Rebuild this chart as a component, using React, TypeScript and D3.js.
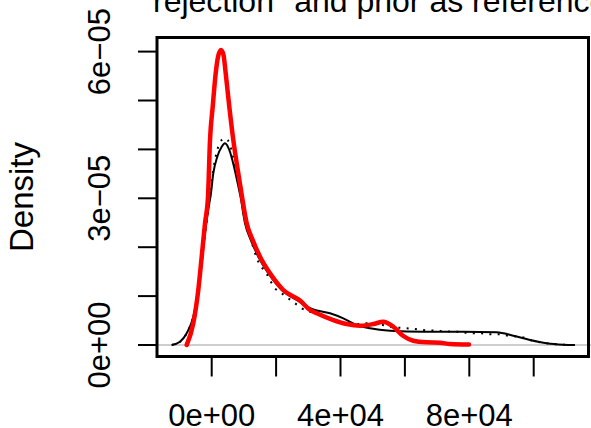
import React from "react";
import * as d3 from "d3";

const titleText = 'rejection" and prior as reference';
const yLabel = "Density";

const xTicks = [0, 20000, 40000, 60000, 80000, 100000];
const xTickLabels = [
  { v: 0, t: "0e+00" },
  { v: 40000, t: "4e+04" },
  { v: 80000, t: "8e+04" },
];
const yTicks = [0, 1e-5, 2e-5, 3e-5, 4e-5, 5e-5, 6e-5];
const yTickLabels = [
  { v: 0, t: "0e+00" },
  { v: 3e-5, t: "3e\u221205" },
  { v: 6e-5, t: "6e\u221205" },
];

// red (thick) density
const redX = [-7764, -5714, -4162, -3106, -2081, -1149, -528, 311, 1242, 1957, 2888, 3665, 4348, 5466, 6708, 8261, 9410, 10870, 12733, 15000, 18106, 22236, 27423, 30528, 32609, 37764, 41926, 46056, 50187, 53293, 56398, 59504, 62609, 66770, 70900, 74006, 79906];
const redY = [0, 0.444e-5, 1.125e-5, 1.806e-5, 2.489e-5, 3.033e-5, 4.192e-5, 4.873e-5, 5.556e-5, 5.89e-5, 6.033e-5, 5.93e-5, 5.556e-5, 4.873e-5, 4.192e-5, 3.511e-5, 3.033e-5, 2.489e-5, 2.147e-5, 1.806e-5, 1.466e-5, 1.125e-5, 0.91e-5, 0.716e-5, 0.648e-5, 0.511e-5, 0.429e-5, 0.395e-5, 0.429e-5, 0.476e-5, 0.374e-5, 0.184e-5, 0.088e-5, 0.055e-5, 0.047e-5, 0.02e-5, 0.01e-5];

// black solid density
const blackX = [-12422, -9845, -7764, -5714, -4162, -3106, -2081, -745, -373, 497, 1739, 3106, 4130, 5466, 6925, 8075, 8944, 10342, 12112, 14472, 17578, 21739, 26398, 30528, 36739, 40870, 45031, 49162, 55373, 65715, 78137, 88510, 93665, 98852, 104038, 109194, 112828];
const blackY = [0, 0.067e-5, 0.239e-5, 0.579e-5, 1.125e-5, 1.671e-5, 2.284e-5, 2.898e-5, 3.033e-5, 3.511e-5, 3.851e-5, 4.055e-5, 4.125e-5, 3.988e-5, 3.646e-5, 3.307e-5, 3.033e-5, 2.489e-5, 2.147e-5, 1.806e-5, 1.466e-5, 1.125e-5, 0.92e-5, 0.751e-5, 0.648e-5, 0.546e-5, 0.409e-5, 0.342e-5, 0.292e-5, 0.272e-5, 0.272e-5, 0.26e-5, 0.19e-5, 0.102e-5, 0.035e-5, 0.006e-5, 0];

// black dotted density
const dotX = [-12422, -9845, -7764, -5714, -4162, -3106, -2081, -745, -373, 497, 1739, 3106, 4130, 4969, 5994, 7236, 8168, 9100, 10497, 12205, 13975, 17081, 19659, 21739, 23789, 25870, 27950, 30528, 33106, 35186, 37764, 40062, 42733, 45528, 48137, 50714, 53106, 55373, 57950, 60559, 63137, 65715, 68323, 70900, 73478, 76087, 78665, 81242, 83851, 86429, 89006, 92640, 96274, 98852, 104038, 109194, 112828];
const dotY = [0, 0.067e-5, 0.239e-5, 0.579e-5, 1.125e-5, 1.671e-5, 2.284e-5, 2.898e-5, 3.1e-5, 3.579e-5, 3.988e-5, 4.192e-5, 4.223e-5, 4.192e-5, 4.022e-5, 3.681e-5, 3.374e-5, 3.033e-5, 2.489e-5, 2.147e-5, 1.779e-5, 1.452e-5, 1.159e-5, 1.057e-5, 0.955e-5, 0.853e-5, 0.751e-5, 0.681e-5, 0.628e-5, 0.566e-5, 0.497e-5, 0.456e-5, 0.444e-5, 0.429e-5, 0.444e-5, 0.429e-5, 0.409e-5, 0.374e-5, 0.354e-5, 0.342e-5, 0.327e-5, 0.307e-5, 0.297e-5, 0.286e-5, 0.276e-5, 0.272e-5, 0.252e-5, 0.239e-5, 0.239e-5, 0.219e-5, 0.219e-5, 0.184e-5, 0.164e-5, 0.102e-5, 0.035e-5, 0.006e-5, 0];

const W = 591;
const H = 428;
const box = { x0: 157, x1: 588.5, y0: 37.5, y1: 356.5 };
const font = "'Liberation Sans', Arial, Helvetica, sans-serif";

export default function App() {
  const x = d3.scaleLinear().domain([0, 100000]).range([211.7, 533.7]);
  const y = d3.scaleLinear().domain([0, 6e-5]).range([345, 51.6]);

  const mk = (xs: number[], ys: number[]) =>
    d3
      .line<number>()
      .x((_, i) => x(xs[i]))
      .y((_, i) => y(ys[i]))
      .curve(d3.curveMonotoneX)(xs) || "";

  return (
    <svg
      width={W}
      height={H}
      style={{ position: "absolute", left: 0, top: 0, background: "#fff" }}
      fontFamily={font}
    >
      <rect x={0} y={0} width={W} height={H} fill="#fff" />
      <text x={153} y={12} fontSize={32} fill="#000">
        {titleText}
      </text>
      <defs>
        <clipPath id="plotclip">
          <rect x={box.x0} y={box.y0} width={W - box.x0} height={box.y1 - box.y0} />
        </clipPath>
      </defs>
      <g clipPath="url(#plotclip)">
        <line x1={box.x0} x2={W} y1={y(0)} y2={y(0)} stroke="#bebebe" strokeWidth={1.5} />
        <path d={mk(dotX, dotY)} fill="none" stroke="#000" strokeWidth={2} strokeDasharray="2 6.3" />
        <path d={mk(blackX, blackY)} fill="none" stroke="#000" strokeWidth={2} />
        <path d={mk(redX, redY)} fill="none" stroke="#ff0000" strokeWidth={4.5} strokeLinejoin="round" strokeLinecap="round" />
      </g>
      <rect
        x={box.x0}
        y={box.y0}
        width={box.x1 - box.x0}
        height={box.y1 - box.y0}
        fill="none"
        stroke="#000"
        strokeWidth={3}
      />
      {xTicks.map((v) => (
        <line key={"xt" + v} x1={x(v)} x2={x(v)} y1={box.y1} y2={box.y1 + 20} stroke="#000" strokeWidth={2} />
      ))}
      {xTickLabels.map((d) => (
        <text key={"xl" + d.v} x={x(d.v)} y={426} fontSize={31} textAnchor="middle" fill="#000">
          {d.t}
        </text>
      ))}
      {yTicks.map((v) => (
        <line key={"yt" + v} x1={box.x0 - 19} x2={box.x0} y1={y(v)} y2={y(v)} stroke="#000" strokeWidth={2} />
      ))}
      {yTickLabels.map((d) => (
        <text
          key={"yl" + d.v}
          transform={`translate(110,${y(d.v)}) rotate(-90)`}
          fontSize={31}
          textAnchor="middle"
          fill="#000"
        >
          {d.t}
        </text>
      ))}
      <text transform={`translate(33,197) rotate(-90)`} fontSize={33} textAnchor="middle" fill="#000">
        {yLabel}
      </text>
    </svg>
  );
}
